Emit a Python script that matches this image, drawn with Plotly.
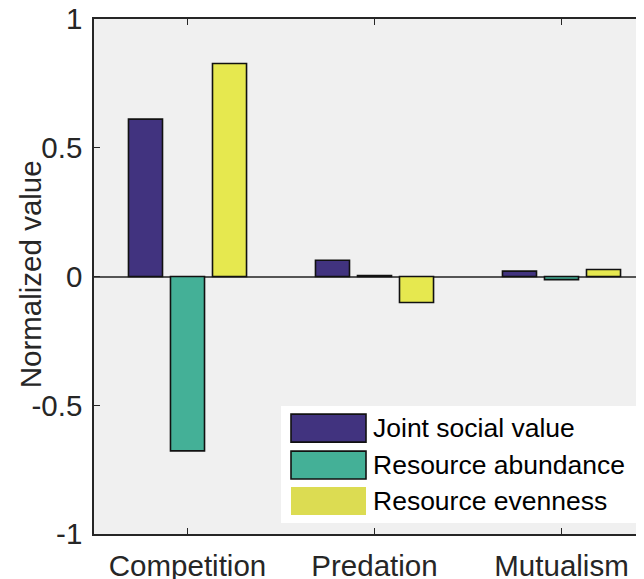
import plotly.graph_objects as go

categories = ["Competition", "Predation", "Mutualism"]
series_names = ["Joint social value", "Resource abundance", "Resource evenness"]
joint_social = [0.611, 0.063, 0.021]
resource_abundance = [-0.677, 0.004, -0.012]
resource_evenness = [0.827, -0.101, 0.027]
bar_colors = ["#41337f", "#44b097", "#e6e84f"]
legend_colors = ["#41337f", "#44b097", "#dcdc52"]
ytick_vals = [-1, -0.5, 0, 0.5, 1]
ytick_text = ["-1", "-0.5", "0", "0.5", "1"]
y_title = "Normalized value"

# page has an 8px body margin; compensate so the visible layout matches
OFF = 8
W, H = 644 - OFF, 579 - OFF
L, R, T = 94 - OFF, 0, 18.5 - OFF
B = H - (534 - OFF)
pw = W - L - R
ph = H - T - B
px_per_cat = 187.0
x_pos = [1, 2, 3]

fig = go.Figure()
for name, vals, col in zip(series_names, [joint_social, resource_abundance, resource_evenness], bar_colors):
    fig.add_trace(go.Bar(x=x_pos, y=vals, name=name, marker=dict(color=col, line=dict(color="#111111", width=1.6)),
                         showlegend=False))

font = "Liberation Sans, Arial, Helvetica, sans-serif"
fig.update_layout(
    width=W, height=H,
    margin=dict(l=L, r=R, t=T, b=B, pad=0, autoexpand=False),
    paper_bgcolor="white", plot_bgcolor="#f0f0f0",
    barmode="group", bargap=0.326, bargroupgap=0.19,
    font=dict(family=font, color="#262626", size=28),
    xaxis=dict(range=[0.5, 0.5 + pw / px_per_cat], tickvals=x_pos, ticktext=categories,
               ticks="inside", ticklen=6, tickwidth=1.3, tickcolor="#262626",
               showline=True, linecolor="#262626", linewidth=1.5, mirror="ticks",
               showgrid=False, zeroline=False, automargin=False, ticklabelstandoff=5,
               ticklabeloverflow="allow",
               tickfont=dict(size=29.5, color="#262626")),
    yaxis=dict(range=[-1, 1], tickvals=ytick_vals, ticktext=ytick_text,
               ticks="inside", ticklen=6, tickwidth=1.3, tickcolor="#262626",
               showline=True, linecolor="#262626", linewidth=1.5, mirror=False,
               showgrid=False, zeroline=True, zerolinecolor="#555555", zerolinewidth=1.5,
               automargin=False, ticklabeloverflow="allow",
               tickfont=dict(size=29.5, color="#262626"), ticklabelstandoff=4),
)

def pxx(x):
    return (x - OFF - L) / pw

def pxy(y):
    return (H - B - (y - OFF)) / ph

# y-axis title
fig.add_annotation(xref="paper", yref="paper", x=pxx(30), y=pxy(274), text=y_title, textangle=-90,
                   showarrow=False, xanchor="center", yanchor="middle",
                   font=dict(size=29.5, color="#262626", family=font))

# legend box
fig.add_shape(type="rect", xref="paper", yref="paper", x0=pxx(281), x1=pxx(660), y0=pxy(523), y1=pxy(406),
              fillcolor="white", line=dict(width=0), layer="above")
row_tops = [414, 451, 487]
for i, (name, col) in enumerate(zip(series_names, legend_colors)):
    y0 = row_tops[i]
    y1 = y0 + 28
    lw = 1.6 if i < 2 else 0
    fig.add_shape(type="rect", xref="paper", yref="paper", x0=pxx(291), x1=pxx(366), y0=pxy(y1), y1=pxy(y0),
                  fillcolor=col, line=dict(color="#111111", width=lw), layer="above")
    fig.add_annotation(xref="paper", yref="paper", x=pxx(371), y=pxy((y0 + y1) / 2), text=name,
                       showarrow=False, xanchor="left", yanchor="middle",
                       font=dict(size=26.5, color="#000000", family=font))

fig.write_html("out.html")
